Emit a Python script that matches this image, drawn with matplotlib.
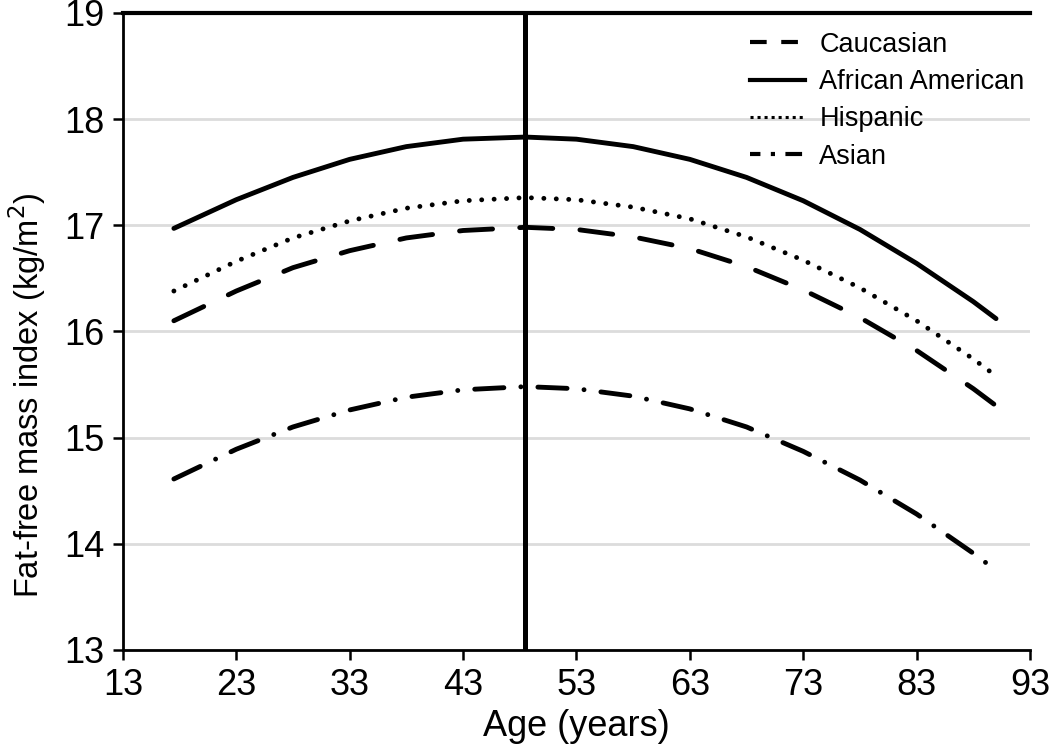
import numpy as np
import matplotlib.pyplot as plt
from matplotlib.lines import Line2D

plt.rcParams['font.family'] = ['Liberation Sans', 'DejaVu Sans']

# values
ages = [17.5, 23, 28, 33, 38, 43, 48.5, 53, 58, 63, 68, 73, 78, 83, 88, 90]
caucasian = [16.10, 16.38, 16.60, 16.76, 16.88, 16.95, 16.98, 16.96, 16.89,
             16.78, 16.61, 16.39, 16.13, 15.82, 15.46, 15.30]
african_american = [16.97, 17.24, 17.45, 17.62, 17.74, 17.81, 17.83, 17.81, 17.74,
                    17.62, 17.45, 17.23, 16.96, 16.64, 16.28, 16.12]
hispanic = [16.38, 16.66, 16.88, 17.04, 17.16, 17.23, 17.26, 17.24, 17.17,
            17.06, 16.89, 16.67, 16.41, 16.10, 15.74, 15.58]
asian = [14.61, 14.89, 15.10, 15.26, 15.38, 15.45, 15.48, 15.46, 15.39,
         15.27, 15.10, 14.87, 14.60, 14.28, 13.91, 13.75]
peak_age = 48.5

labels = ['Caucasian', 'African American', 'Hispanic', 'Asian']
x_ticks = [13, 23, 33, 43, 53, 63, 73, 83, 93]
y_ticks = [13, 14, 15, 16, 17, 18, 19]

fig = plt.figure(figsize=(10.5, 7.54), dpi=100)
ax = fig.add_axes([0.117, 0.138, 0.864, 0.845])

lw = 3.5
ax.plot(ages, caucasian, color='black', lw=lw, linestyle=(0, (6.8, 5.6)),
        dash_capstyle='round')
ax.plot(ages, african_american, color='black', lw=lw, solid_capstyle='round')
ax.plot(ages, hispanic, color='black', lw=lw, linestyle=(0, (0.01, 2.55)),
        dash_capstyle='round')
ax.plot(ages, asian, color='black', lw=lw, linestyle=(0, (6, 3.5, 0.01, 3.5)),
        dash_capstyle='round')

ax.axvline(peak_age, color='black', lw=3.6)

ax.set_xlim(13, 93)
ax.set_ylim(13, 19)
ax.set_xticks(x_ticks)
ax.set_yticks(y_ticks)
ax.grid(axis='y', color='#dcdcdc', lw=2)
ax.set_axisbelow(True)

for s in ['left', 'bottom']:
    ax.spines[s].set_linewidth(2)
ax.spines['top'].set_linewidth(3)
ax.spines['right'].set_visible(False)
ax.tick_params(direction='out', length=7, width=1.8, labelsize=26, pad=6)

ax.set_xlabel('Age (years)', fontsize=26, labelpad=4)
ax.set_ylabel('Fat-free mass index (kg/m$^2$)', fontsize=23.5)
ax.yaxis.set_label_coords(-0.083, 0.40)

# legend keys are drawn on a finer scale than the curves
handles = [
    Line2D([], [], color='black', lw=3, linestyle=(0, (4, 3.5))),
    Line2D([], [], color='black', lw=3),
    Line2D([], [], color='black', lw=2.2, linestyle=(0, (1, 1.3))),
    Line2D([], [], color='black', lw=3, linestyle=(1.5, (4, 2.5, 1, 2.5))),
]
ax.legend(handles, labels, loc='upper right', bbox_to_anchor=(1.012, 0.996),
          frameon=False, fontsize=19.5, handlelength=2.0, handletextpad=0.55,
          labelspacing=0.42, borderaxespad=0.2)

fig.savefig('out.png', dpi=100)
